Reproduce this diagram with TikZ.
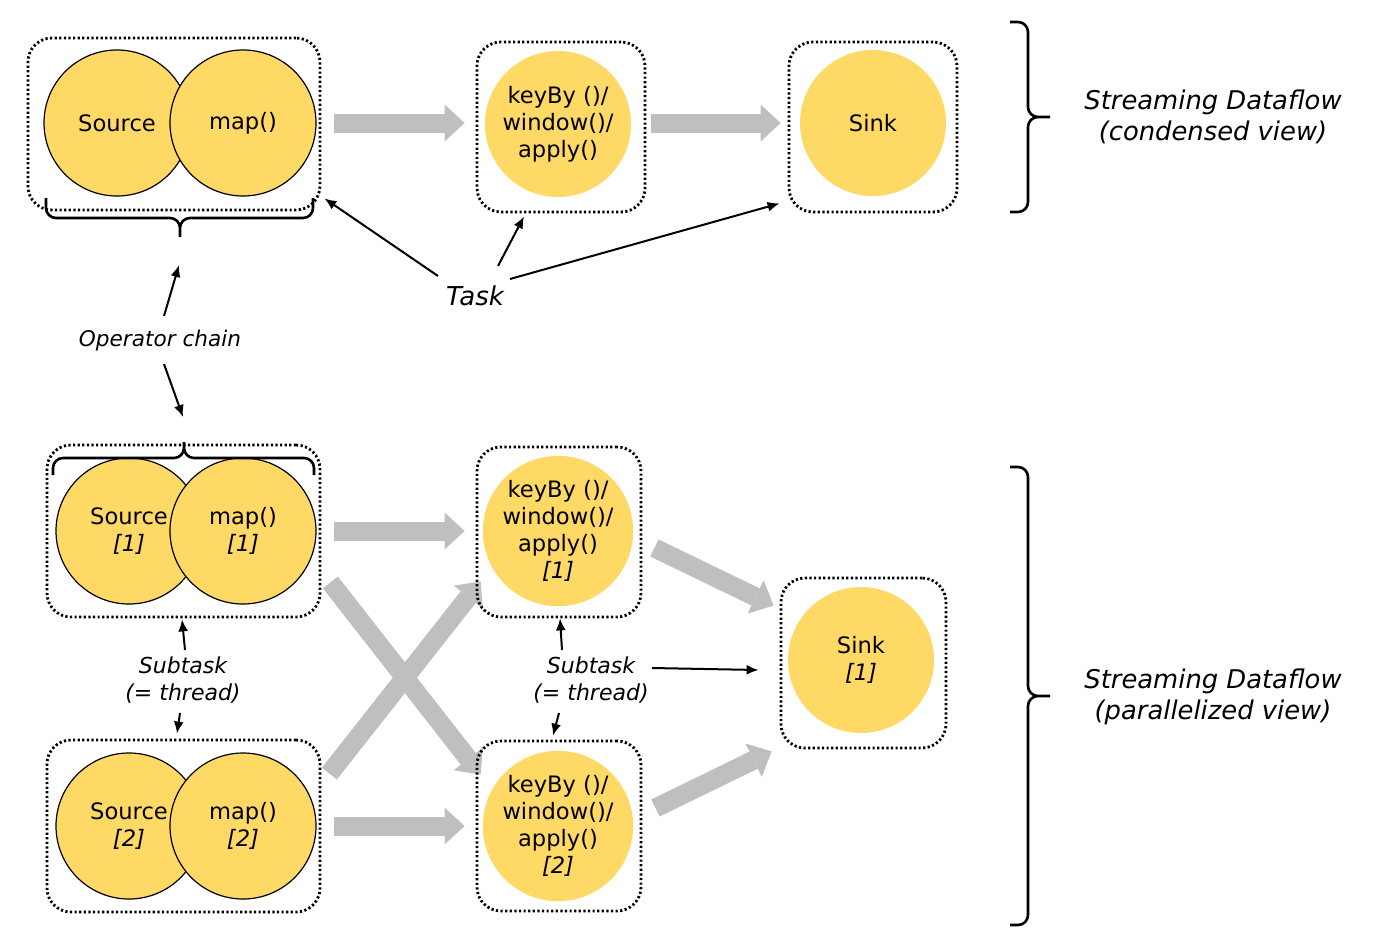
\documentclass[tikz,border=0pt]{standalone}
\usepackage{fontspec}
\setmainfont{DejaVu Sans}
\usetikzlibrary{arrows.meta, backgrounds, positioning}
\definecolor{opyellow}{HTML}{FFD966}
\definecolor{flowgray}{HTML}{BFBFBF}
\tikzset{
  op/.style={circle, fill=opyellow, minimum size=73pt, inner sep=0pt, align=center,
    font=\fontsize{11.3}{13.5}\selectfont},
  chained/.style={op, draw=black, line width=0.6pt},
  taskbox/.style={draw, rounded corners=12pt, line width=1.4pt, dash pattern=on 1.1pt off 1.2pt,
    minimum height=85pt, inner sep=0pt},
  flow/.style={draw=flowgray, line width=9.5pt, -{Triangle[width=18.5pt, length=10pt, line width=0pt]}},
  pointer/.style={line width=1pt, -{Latex[length=6pt, width=5pt]}},
  note/.style={font=\itshape\fontsize{11}{13.5}\selectfont, align=center},
  curly/.style={line width=1.3pt, rounded corners=5pt},
}

\begin{document}
\begin{tikzpicture}[x=0.5pt, y=-0.5pt]
  \useasboundingbox (0,0) rectangle (1386,948);

  \node[taskbox, minimum width=146pt, minimum height=86pt] (box1) at (174,124) {};
  \node[chained] (src) at (117,123) {Source};
  \node[chained] (map) at (243,123) {map()};
  \node[taskbox, minimum width=84pt] (box2) at (561,127) {};
  \node[op] (win) at (558,124) {keyBy ()/\\window()/\\apply()};
  \node[taskbox, minimum width=84pt] (box3) at (873,127) {};
  \node[op] (sink) at (873,123) {Sink};

  \node[taskbox, minimum width=136.5pt, minimum height=86pt] (box4) at (183.5,531) {};
  \node[chained] (src1) at (129,531) {Source\\\textit{[1]}};
  \node[chained] (map1) at (243,531) {map()\\\textit{[1]}};
  \node[taskbox, minimum width=82pt] (box5) at (559,532) {};
  \node[op] (win1) at (558,531) {keyBy ()/\\window()/\\apply()\\\textit{[1]}};

  \node[taskbox, minimum width=136.5pt, minimum height=86pt] (box6) at (183.5,826) {};
  \node[chained] (src2) at (129,826) {Source\\\textit{[2]}};
  \node[chained] (map2) at (243,826) {map()\\\textit{[2]}};
  \node[taskbox, minimum width=82pt] (box7) at (559,826) {};
  \node[op] (win2) at (558,826) {keyBy ()/\\window()/\\apply()\\\textit{[2]}};

  \node[taskbox, minimum width=82.5pt] (box8) at (863.5,663) {};
  \node[op] (sink1) at (861,660) {Sink\\\textit{[1]}};

  \begin{scope}[on background layer]
    \draw[flow] ([shift={(13,-1)}]box1.east) -- ([shift={(-11,-4)}]box2.west);
    \draw[flow] ([shift={(5,-4)}]box2.east) -- ([shift={(-7,-4)}]box3.west);
    \draw[flow] ([shift={(13,0)}]box4.east) -- ([shift={(-11,-1)}]box5.west);
    \draw[flow] ([shift={(13,0)}]box6.east) -- ([shift={(-11,0)}]box7.west);
    \draw[flow] ([shift={(9,-36)}]box4.south east) -- ([shift={(5,35)}]box7.north west);
    \draw[flow] ([shift={(8,35)}]box6.north east) -- ([shift={(5,-37)}]box5.south west);
    \draw[flow] ([shift={(12,16)}]box5.east) -- ([shift={(-6,29)}]box8.north west);
    \draw[flow] ([shift={(13,-18)}]box7.east) -- ([shift={(-8,2)}]box8.south west);
  \end{scope}

  \draw[curly] (46,198) |- (180,218) -- (180,237) (313,198) |- (180,218) -- (180,237);
  \draw[curly] (53,475) |- (184,458) -- (184,442) (314,475) |- (184,458) -- (184,442);
  \draw[curly] (1010,22) -| (1028,117) -- (1050,117) (1010,212) -| (1028,117) -- (1050,117);
  \draw[curly] (1010,467) -| (1028,696) -- (1050,696) (1010,925) -| (1028,696) -- (1050,696);
  \coordinate (chaintop) at (180,240);
  \coordinate (chainbot) at (184,442);

  \node[note, font=\itshape\fontsize{12.9}{15.5}\selectfont] (cond) at (1213,117) {Streaming Dataflow\\(condensed view)};
  \node[note, font=\itshape\fontsize{12.9}{15.5}\selectfont] (par) at (1213,697) {Streaming Dataflow\\(parallelized view)};
  \node[note, font=\itshape\fontsize{13}{15}\selectfont] (task) at (475,296) {Task};
  \node[note, font=\itshape\fontsize{10.8}{12}\selectfont] (chain) at (160,341) {Operator chain};
  \node[note] (sub1) at (183,680) {Subtask\\(= thread)};
  \node[note] (sub2) at (591,680) {Subtask\\(= thread)};

  \draw[pointer] ([shift={(-37,-20)}]task.center) -- ([shift={(3,-13)}]box1.south east);
  \draw[pointer] ([shift={(23,-30)}]task.center) -- ([shift={(-37,3)}]box2.south);
  \draw[pointer] ([shift={(35,-17)}]task.center) -- ([shift={(-8,-10)}]box3.south west);
  \draw[pointer] ([shift={(4,-25)}]chain.center) -- ([shift={(-1,25)}]chaintop);
  \draw[pointer] ([shift={(4,23)}]chain.center) -- ([shift={(-1,-25)}]chainbot);
  \draw[pointer] ([shift={(2,-30)}]sub1.center) -- ([shift={(-1.5,1)}]box4.south);
  \draw[pointer] ([shift={(-3,33)}]sub1.center) -- ([shift={(-6.5,-5)}]box6.north);
  \draw[pointer] ([shift={(-29,-30)}]sub2.center) -- ([shift={(1,0)}]box5.south);
  \draw[pointer] ([shift={(-32,33)}]sub2.center) -- ([shift={(-6,-4)}]box7.north);
  \draw[pointer] ([shift={(61,-12)}]sub2.center) -- ([shift={(-21,7)}]box8.west);
\end{tikzpicture}
\end{document}
